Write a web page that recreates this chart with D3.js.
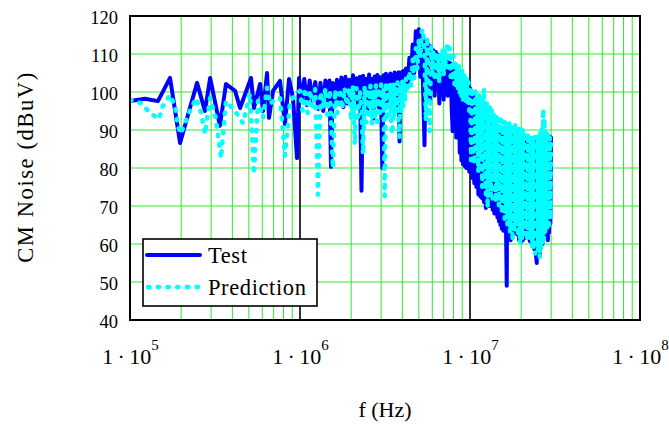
<!DOCTYPE html>
<html><head><meta charset="utf-8">
<script src="https://cdn.jsdelivr.net/npm/d3@7"></script>
<style>body{margin:0;background:#fff}</style>
</head><body>
<svg id="c" width="669" height="424"></svg>
<script>
// ---- data (frequency in MHz, level in dBuV) ----
const yTicks = [40, 50, 60, 70, 80, 90, 100, 110, 120];
const xTickExps = [5, 6, 7, 8];           // labels 1·10^n Hz
const seriesNames = ["Test", "Prediction"];

// band 1: 0.1 - 1.9 MHz
const testFreq1 = [
  0.100,0.1225,0.146,0.172,0.197,0.248,0.276,0.296,0.338,0.367,
  0.415,0.444,0.515,0.536,0.582,0.606,0.640,0.657,0.694,0.763,
  0.816,0.862,0.910,0.960,
  0.987,1.02,1.06,1.10,1.14,1.19,1.23,1.28,1.32,1.37,
  1.41,1.45,1.49,1.522,1.56,1.61,1.65,1.70,1.75,1.80,
  1.85,1.90];
const testDb1 = [
  97.6,98.2,97.6,103.7,86.6,102.4,95.0,103.7,91.1,102.1,
  100.3,95.8,103.7,95.8,102.1,95.0,105.0,93.2,100.3,102.9,
  91.6,103.4,98.4,82.6,
  103.7,97.6,103.4,96.5,103.0,97.6,102.6,95.5,102.4,95.0,
  103.0,97.0,103.0,80.3,102.4,96.5,103.2,97.6,103.8,96.0,
  104.0,97.0];
const predFreq1 = [
  0.100,0.116,0.131,0.148,0.156,0.172,0.184,0.192,0.199,0.225,
  0.245,0.262,0.276,0.296,0.320,0.343,0.367,0.415,0.462,0.508,
  0.536,0.566,0.606,0.640,0.666,0.694,0.763,0.816,0.874,0.960,
  1.000,1.035,1.07,1.11,1.145,1.19,1.23,1.276,1.32,1.366,
  1.41,1.45,1.50,1.56,1.61,1.66,1.72,1.77,1.83,1.89];
const predDb1 = [
  97.9,97.1,94.5,92.9,96.3,99.2,96.3,90.8,89.0,95.0,
  98.4,94.5,89.0,98.4,93.0,82.6,97.6,95.0,91.8,99.5,
  78.4,97.6,93.2,101.1,96.8,97.6,98.4,83.2,97.6,99.5,
  100.3,95.0,101.0,94.5,100.5,96.0,100.8,73.0,100.0,95.8,
  101.0,94.0,100.5,80.0,100.5,94.5,100.8,95.5,101.0,96.5];

// band 2: 1.95 - 4.2 MHz
const freq2 = [
  1.95,2.00,2.05,2.10,2.15,2.20,2.25,2.30,2.35,2.40,
  2.45,2.50,2.55,2.60,2.65,2.70,2.75,2.80,2.85,2.90,
  2.95,3.00,3.05,3.10,3.15,3.20,3.25,3.30,3.35,3.40,
  3.45,3.50,3.55,3.60,3.65,3.70,3.75,3.80,3.85,3.90,
  3.95,4.00,4.05,4.10,4.15,4.20];
const testDb2 = [
  103.2,97.0,104.4,98.0,103.6,96.2,104.0,74.0,104.3,97.5,
  103.5,95.5,104.6,97.8,103.4,93.0,104.1,98.2,104.5,96.0,
  103.9,97.2,80.0,104.4,97.5,104.8,96.8,104.2,98.0,104.9,
  95.0,104.5,97.6,105.1,98.3,104.7,96.5,105.2,87.0,105.0,
  98.5,105.4,99.0,105.6,100.5,106.2];
const predDb2 = [
  101.0,92.5,101.6,86.3,101.0,93.5,100.5,95.0,83.7,101.5,
  92.0,100.8,94.0,101.8,91.5,100.5,93.0,102.0,91.0,101.0,
  94.5,102.0,95.5,101.2,72.6,102.5,92.5,101.5,94.0,102.2,
  90.5,89.0,102.5,93.5,101.8,95.0,102.6,92.0,88.0,102.0,
  95.0,102.8,96.0,103.0,97.5,103.5];

// band 3: 4.3 - 10 MHz
const freq3 = [
  4.3,4.4,4.5,4.6,4.7,4.8,4.9,5.0,5.1,5.2,
  5.3,5.4,5.5,5.6,5.7,5.8,5.9,6.0,6.1,6.2,
  6.3,6.4,6.5,6.6,6.7,6.8,6.9,7.0,7.1,7.2,
  7.3,7.4,7.5,7.6,7.7,7.8,7.9,8.0,8.1,8.2,
  8.3,8.4,8.5,8.6,8.7,8.8,8.9,9.0,9.1,9.2,
  9.3,9.4,9.5,9.6,9.7,9.8,9.9,10.0];
const testDb3 = [
  102.0,109.0,103.5,112.5,105.0,116.0,108.0,116.5,104.0,115.0,
  101.0,86.0,113.5,100.0,112.5,98.0,112.0,101.0,111.0,99.0,
  110.5,100.5,109.8,97.0,109.0,99.5,108.5,98.0,108.2,100.0,
  108.0,99.0,107.8,100.5,107.5,96.0,89.7,107.0,95.0,106.0,
  88.0,105.5,92.0,105.0,84.0,104.5,82.0,104.0,81.0,103.5,
  80.5,103.0,80.0,102.5,81.0,102.0,79.0,101.0];
const predDb3 = [
  100.0,105.5,101.5,108.5,103.5,111.5,106.0,114.0,109.0,116.0,
  116.5,110.0,92.4,114.5,104.0,89.7,112.0,104.5,111.0,103.0,
  110.5,104.0,110.0,102.5,110.5,105.0,111.0,104.0,111.5,106.0,
  112.0,113.0,106.5,111.5,104.0,110.5,103.0,109.5,102.0,108.5,
  101.5,107.5,100.5,107.0,99.5,106.0,98.5,105.5,98.0,105.0,
  97.5,104.5,97.0,103.5,96.5,102.5,95.0,101.5];

// band 4: 10.15 - 30 MHz
const freq4 = [
  10.15,10.3,10.45,10.6,10.75,10.9,11.05,11.2,11.35,11.5,
  11.65,11.8,11.95,12.1,12.25,12.4,12.55,12.7,12.85,13.0,
  13.15,13.3,13.45,13.6,13.75,13.9,14.05,14.2,14.35,14.5,
  14.65,14.8,14.95,15.1,15.25,15.4,15.55,15.7,15.85,16.0,
  16.15,16.3,16.45,16.6,16.75,16.9,17.05,17.2,17.35,17.5,
  17.65,17.8,17.95,
  18.2,18.45,18.7,18.95,19.2,19.45,19.7,19.95,20.2,20.45,
  20.7,20.95,21.2,21.45,21.7,21.95,22.2,22.45,22.7,22.95,
  23.2,23.45,23.7,23.95,24.2,24.45,24.7,24.95,25.2,25.45,
  25.7,25.95,26.2,26.45,26.7,26.95,27.2,27.45,27.7,27.95,
  28.2,28.45,28.7,28.95,29.2,29.45,29.7,29.95];
const testDb4 = [
  100.0,77.4,98.8,76.0,98.0,75.0,97.4,73.0,96.8,72.5,
  96.2,72.0,95.4,71.0,94.6,69.5,93.8,70.5,93.0,70.0,
  92.6,71.0,92.2,69.0,91.9,68.0,91.6,68.5,91.3,67.0,
  91.0,66.0,90.8,65.0,90.6,64.0,90.5,63.5,90.4,64.5,
  90.3,63.0,49.0,90.1,62.0,89.9,61.5,89.8,61.0,89.7,
  62.0,89.6,62.5,
  89.5,63.0,89.3,62.5,89.1,61.0,88.9,60.5,88.7,61.0,
  88.5,61.5,88.3,62.0,88.1,61.8,87.9,60.8,87.7,60.5,
  87.5,59.5,87.3,58.5,87.1,57.0,55.0,86.9,56.5,86.7,
  57.0,86.8,59.0,86.9,60.0,87.1,61.5,87.3,62.0,87.6,
  61.5,87.9,61.0,88.1,63.0,88.3,65.3,88.0];
const predDb4 = [
  82.0,101.0,88.0,81.0,100.2,85.0,99.8,79.0,99.4,84.0,
  99.0,75.0,98.4,100.8,80.0,73.0,97.5,69.5,96.5,76.0,
  95.8,72.5,95.0,72.0,94.4,78.0,93.8,71.0,93.4,74.0,
  93.0,70.0,92.8,75.0,92.6,68.0,92.4,72.0,92.2,66.5,
  92.0,70.0,91.9,65.0,91.8,68.0,91.7,63.0,91.6,66.0,
  91.4,60.8,91.3,
  63.0,91.8,65.0,90.8,62.0,90.6,60.0,90.3,61.5,90.0,
  62.5,89.7,64.0,89.4,61.0,89.1,62.5,88.8,61.5,88.5,
  59.0,88.3,58.5,88.1,57.5,88.2,60.0,88.6,58.0,89.0,
  56.3,89.4,58.5,90.5,60.0,95.5,61.0,92.9,62.5,89.7,
  64.0,89.5,63.5,89.3,65.0,89.0,66.5,88.0];

// ---- helpers ----
function zip(f, v) { const n = Math.min(f.length, v.length); const a = []; for (let i = 0; i < n; i++) a.push([f[i], v[i]]); return a; }
const testPts = [].concat(zip(testFreq1, testDb1), zip(freq2, testDb2), zip(freq3, testDb3), zip(freq4, testDb4));
const predPts = [].concat(zip(predFreq1, predDb1), zip(freq2, predDb2), zip(freq3, predDb3), zip(freq4, predDb4));

const FONT = "'Liberation Serif','Times New Roman',Times,serif";

// ---- drawing ----
const W = 669, H = 424;
const L = 130, R = 640, T = 16, B = 320;
const GREEN = "#2fe82f", BLUE = "#0000ff", CYAN = "#00ffff";

const svg = d3.select("#c");
svg.append("rect").attr("width", W).attr("height", H).attr("fill", "#fff");

const x = d3.scaleLog().domain([0.1, 100]).range([L, R]);
const y = d3.scaleLinear().domain([40, 120]).range([B, T]);

// grid
const minor = [];
[0.1, 1, 10].forEach(d => { for (let k = 2; k <= 9; k++) minor.push(d * k); });
const g = svg.append("g");
g.selectAll(".vm").data(minor).join("line")
  .attr("x1", d => x(d)).attr("x2", d => x(d)).attr("y1", T).attr("y2", B)
  .attr("stroke", GREEN).attr("stroke-width", 1);
g.selectAll(".hm").data(yTicks.slice(1, -1)).join("line")
  .attr("x1", L).attr("x2", R).attr("y1", d => y(d)).attr("y2", d => y(d))
  .attr("stroke", GREEN).attr("stroke-width", 1);
g.selectAll(".vd").data([1, 10]).join("line")
  .attr("x1", d => x(d)).attr("x2", d => x(d)).attr("y1", T).attr("y2", B)
  .attr("stroke", "#000").attr("stroke-width", 1.6);

// series
const line = d3.line().x(d => x(d[0])).y(d => y(d[1]));
svg.append("clipPath").attr("id", "pc").append("rect")
  .attr("x", L).attr("y", T).attr("width", R - L).attr("height", B - T);
svg.append("path").datum(testPts).attr("d", line)
  .attr("clip-path", "url(#pc)")
  .attr("fill", "none").attr("stroke", BLUE).attr("stroke-width", 4)
  .attr("stroke-linejoin", "round").attr("stroke-linecap", "round");
svg.append("path").datum(predPts).attr("d", line)
  .attr("clip-path", "url(#pc)")
  .attr("fill", "none").attr("stroke", CYAN).attr("stroke-width", 4.5)
  .attr("stroke-dasharray", "1.5,8.2").attr("stroke-linecap", "round")
  .attr("stroke-linejoin", "round");

// frame
svg.append("rect").attr("x", L).attr("y", T).attr("width", R - L).attr("height", B - T)
  .attr("fill", "none").attr("stroke", "#000").attr("stroke-width", 2);

// y axis labels
const ya = svg.append("g").attr("transform", `translate(${L},0)`)
  .call(d3.axisLeft(y).tickValues(yTicks).tickSize(0).tickPadding(12).tickFormat(d3.format("d")));
ya.select(".domain").remove();
ya.selectAll("text").attr("font-family", FONT).attr("font-size", 18.5).attr("fill", "#000")
  .attr("dy", "0.38em");

// x axis labels
const xa = svg.append("g").attr("transform", `translate(0,${B})`)
  .call(d3.axisBottom(x).tickValues(xTickExps.map(e => Math.pow(10, e - 6))).tickSize(0).tickFormat(""));
xa.select(".domain").remove();
xa.selectAll(".tick text").each(function(d, i) {
  const t = d3.select(this).attr("y", 44).attr("dy", null)
    .attr("font-family", FONT).attr("font-size", 22).attr("fill", "#000").attr("text-anchor", "middle");
  t.text(null);
  t.append("tspan").text("1\u2009\u00b7\u200910");
  t.append("tspan").attr("dy", -14).attr("font-size", 15).text(String(xTickExps[i]));
});

// axis titles
svg.append("text").attr("x", 385).attr("y", 417).attr("text-anchor", "middle")
  .attr("font-family", FONT).attr("font-size", 22).text("f (Hz)");
svg.append("text").attr("transform", "translate(33,167) rotate(-90)").attr("text-anchor", "middle")
  .attr("font-family", FONT).attr("font-size", 22.5).attr("letter-spacing", 1.6).text("CM Noise (dBuV)");

// legend
const lg = svg.append("g");
lg.append("rect").attr("x", 143).attr("y", 239).attr("width", 174).attr("height", 67)
  .attr("fill", "#fff").attr("stroke", "#000").attr("stroke-width", 1.6);
lg.append("line").attr("x1", 147).attr("x2", 200).attr("y1", 255).attr("y2", 255)
  .attr("stroke", BLUE).attr("stroke-width", 4).attr("stroke-linecap", "round");
lg.append("line").attr("x1", 148).attr("x2", 200).attr("y1", 287).attr("y2", 287)
  .attr("stroke", CYAN).attr("stroke-width", 4.5).attr("stroke-dasharray", "1.5,8.2")
  .attr("stroke-linecap", "round");
lg.selectAll("text.lt").data(seriesNames).join("text")
  .attr("x", 208).attr("y", (d, i) => 263 + i * 32)
  .attr("font-family", FONT).attr("font-size", 22.5).attr("letter-spacing", 0.6).text(d => d);
</script>
</body></html>
